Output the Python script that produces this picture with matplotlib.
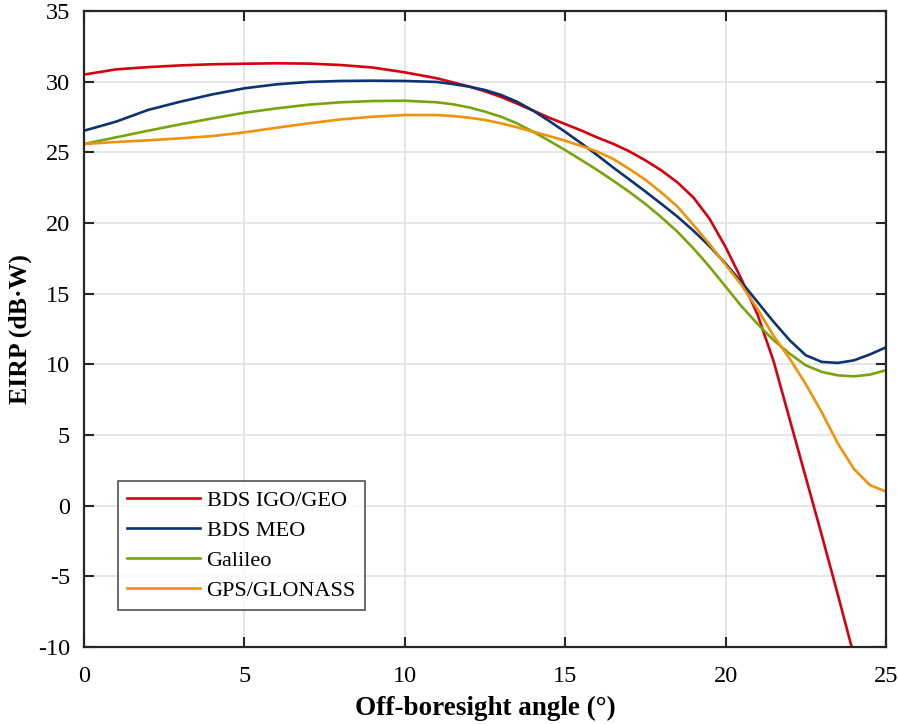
import numpy as np
import matplotlib
matplotlib.use('Agg')
import matplotlib.pyplot as plt

plt.rcParams['font.family'] = ['Liberation Serif', 'DejaVu Serif']
plt.rcParams['axes.unicode_minus'] = False

# 曲线数据
x_red = [0, 1, 2, 3, 4, 5, 6, 7, 8, 9, 10, 11, 11.5, 12, 12.5, 13, 13.5, 14, 14.5,
         15, 15.5, 16, 16.5, 17, 17.5, 18, 18.5, 19, 19.5, 20, 20.5, 21, 21.5,
         22, 22.5, 23, 23.5, 23.93]
y_red = [30.5, 30.87, 31.03, 31.15, 31.23, 31.27, 31.3, 31.28, 31.18, 31.0,
         30.66, 30.24, 29.95, 29.66, 29.32, 28.92, 28.45, 27.95, 27.45,
         27.0, 26.55, 26.05, 25.6, 25.07, 24.43, 23.72, 22.87, 21.8, 20.3,
         18.3, 16.0, 13.5, 10.2, 6.1, 2.0, -2.1, -6.3, -10.0]

x_rest = [0, 1, 2, 3, 4, 5, 6, 7, 8, 9, 10, 11, 11.5, 12, 12.5, 13, 13.5, 14, 14.5,
          15, 15.5, 16, 16.5, 17, 17.5, 18, 18.5, 19, 19.5, 20, 20.5, 21, 21.5,
          22, 22.5, 23, 23.5, 24, 24.5, 25]
y_blue = [26.53, 27.17, 28.0, 28.58, 29.1, 29.53, 29.81, 29.98, 30.05, 30.07,
          30.05, 29.98, 29.83, 29.65, 29.41, 29.06, 28.58, 27.95, 27.22,
          26.45, 25.64, 24.8, 23.92, 23.08, 22.23, 21.35, 20.45, 19.45, 18.36,
          17.13, 15.8, 14.4, 13.0, 11.7, 10.64, 10.17, 10.1, 10.28, 10.7, 11.2]
y_green = [25.59, 26.06, 26.53, 26.98, 27.4, 27.8, 28.11, 28.37, 28.54, 28.63,
           28.65, 28.54, 28.4, 28.18, 27.88, 27.52, 27.05, 26.46, 25.82,
           25.16, 24.46, 23.75, 22.99, 22.2, 21.35, 20.4, 19.38, 18.2, 16.9,
           15.5, 14.1, 12.85, 11.7, 10.75, 9.93, 9.46, 9.22, 9.15, 9.27, 9.58]
y_orange = [25.59, 25.73, 25.85, 25.99, 26.15, 26.41, 26.74, 27.05, 27.33, 27.52,
            27.64, 27.64, 27.57, 27.45, 27.29, 27.05, 26.77, 26.46, 26.15,
            25.82, 25.45, 25.05, 24.53, 23.82, 23.06, 22.16, 21.16, 19.86, 18.5,
            17.05, 15.6, 13.9, 12.0, 10.4, 8.6, 6.6, 4.4, 2.6, 1.45, 1.0]

labels = ['BDS IGO/GEO', 'BDS MEO', 'Galileo', 'GPS/GLONASS']
colors = ['#d6000f', '#0d3370', '#78a40c', '#f0920a']

fig = plt.figure(figsize=(8.98, 7.24), dpi=100)
ax = fig.add_axes([0.0935, 0.1064, 0.8931, 0.8784])

ax.plot(x_red, y_red, color=colors[0], lw=1.9, label=labels[0])
ax.plot(x_rest, y_blue, color=colors[1], lw=1.9, label=labels[1])
ax.plot(x_rest, y_green, color=colors[2], lw=1.9, label=labels[2])
ax.plot(x_rest, y_orange, color=colors[3], lw=1.9, label=labels[3])

ax.set_xlim(0, 25)
ax.set_ylim(-10, 35)
ax.set_xticks(np.arange(0, 26, 5))
ax.set_yticks(np.arange(-10, 36, 5))
ax.grid(True, color='#e2e2e2', lw=1.2)
ax.set_axisbelow(True)

ax.tick_params(direction='in', length=7, width=1.5, top=True, right=True,
               labelsize=17.5, colors='#262626', labelcolor='black', pad=10)
ax.tick_params(axis='x', pad=14)
for s in ax.spines.values():
    s.set_color('#262626')
    s.set_linewidth(1.6)

ax.set_xlabel('Off-boresight angle (°)', fontsize=19.5, fontweight='bold', labelpad=6)
ax.set_ylabel('EIRP (dB·W)', fontsize=18.5, fontweight='bold', labelpad=4)

leg = ax.legend(loc='lower left', bbox_to_anchor=(0.042, 0.058), borderaxespad=0,
                fontsize=16, frameon=True, fancybox=False, handlelength=3.3,
                labelspacing=0.43, borderpad=0.4, handletextpad=0.3)
leg.get_frame().set_edgecolor('#262626')
leg.get_frame().set_linewidth(1.2)

fig.savefig('out.png', dpi=100)
